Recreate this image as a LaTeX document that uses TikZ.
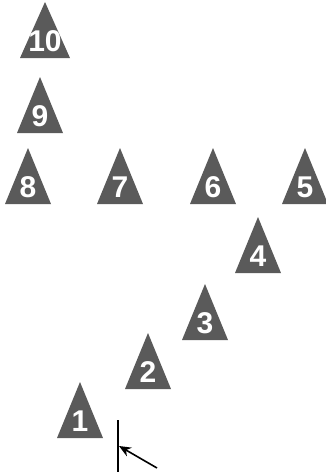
\documentclass[tikz,border=0pt]{standalone}
\usepackage{fontspec}
\setmainfont{Liberation Sans}
\usetikzlibrary{arrows.meta}
\definecolor{tri}{HTML}{5A5A5A}
\tikzset{
  numlabel/.style={text=white, font={\fontsize{30}{30}\selectfont\bfseries}, inner sep=0pt, anchor=center},
  pointer/.style={line width=1.6pt, -{Stealth[length=12pt,width=10pt]}}
}
\newcommand{\marker}[4][23]{% half width, name, apex x, apex y
  \fill[tri] (#3,#4) -- (#3-#1,#4+56) -- (#3+#1,#4+56) -- cycle;
  \node[numlabel] (t#2) at (#3,#4+39) {#2};
}
\begin{document}
\begin{tikzpicture}[x=1pt,y=-1pt]
\useasboundingbox (0,0) rectangle (326,472);
\marker[25]{10}{45}{2}
\marker{9}{40}{77}
\marker{8}{28}{148}
\marker{7}{120}{148}
\marker{6}{213}{148}
\marker{5}{305}{148}
\marker{4}{258}{217}
\marker{3}{205}{284}
\marker{2}{148}{333}
\marker{1}{80}{382}
\coordinate (lt) at (118,420);
\coordinate (lb) at (118,472);
\coordinate (as) at (157,468);
\coordinate (ae) at (119,446);
\draw[line width=1.6pt] (lt) -- (lb);
\draw[pointer] (as) -- (ae);
\end{tikzpicture}
\end{document}
